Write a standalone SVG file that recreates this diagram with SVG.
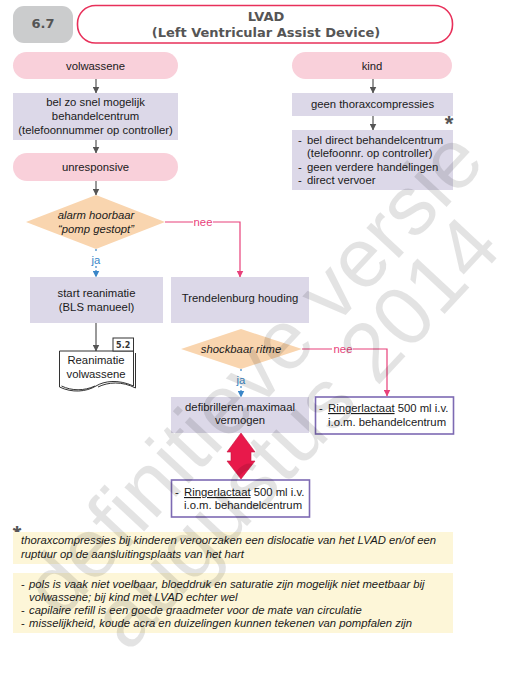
<svg xmlns="http://www.w3.org/2000/svg" width="526" height="680" viewBox="0 0 526 680">
<defs>
<style>
.t{font-family:"Liberation Sans",Arial,sans-serif;font-size:11.3px;fill:#1a1a1a;text-anchor:middle}
.l{text-anchor:start}
.i{font-style:italic}
.h{font-family:"DejaVu Sans",Verdana,sans-serif;font-weight:bold;font-size:13px;fill:#555;text-anchor:middle}
.pink{fill:#f9d0da}
.lav{fill:#dcd8e8}
.dia{fill:#f9d5af}
.note{fill:#fdf6d8}
.out{fill:#fff;stroke:#7d6ab3;stroke-width:1.6}
.g{stroke:#555;stroke-width:1.2;fill:none}
.nee{stroke:#e8407a;stroke-width:1.2;fill:none}
.ja{stroke:#3a86c8;stroke-width:1.2;fill:none;stroke-dasharray:2 2}
.star{font-family:"Liberation Sans",Arial,sans-serif;font-weight:bold;font-size:22px;fill:#555;text-anchor:middle}
</style>
<marker id="ag" markerUnits="userSpaceOnUse" markerWidth="7" markerHeight="7" refX="6.5" refY="3.5" orient="auto"><path d="M0,0 L7,3.5 L0,7 z" fill="#555"/></marker>
<marker id="ap" markerUnits="userSpaceOnUse" markerWidth="7" markerHeight="7" refX="6.5" refY="3.5" orient="auto"><path d="M0,0 L7,3.5 L0,7 z" fill="#e8407a"/></marker>
<marker id="ab" markerUnits="userSpaceOnUse" markerWidth="7" markerHeight="7" refX="6.5" refY="3.5" orient="auto"><path d="M0,0 L7,3.5 L0,7 z" fill="#3a86c8"/></marker>
</defs>
<rect width="526" height="680" fill="#fff"/>

<g id="header">
<rect x="13" y="6" width="60" height="37" rx="11" fill="#cbcccd"/>
<text class="h" x="43" y="28">6.7</text>
<rect x="77.5" y="5.5" width="375" height="37.5" rx="18" fill="#fff" stroke="#e8305a" stroke-width="1.6"/>
<text class="h" x="266" y="21">LVAD</text>
<text class="h" x="266" y="37">(Left Ventricular Assist Device)</text>
</g>

<g id="connectors">
<line class="g" x1="96" y1="79" x2="96" y2="93" marker-end="url(#ag)"/>
<line class="g" x1="96" y1="140" x2="96" y2="153" marker-end="url(#ag)"/>
<line class="g" x1="96" y1="181" x2="96" y2="195" marker-end="url(#ag)"/>
<line class="g" x1="373" y1="79" x2="373" y2="93" marker-end="url(#ag)"/>
<line class="g" x1="373" y1="116" x2="373" y2="130" marker-end="url(#ag)"/>
<line class="g" x1="96" y1="323" x2="96" y2="351" marker-end="url(#ag)"/>
<path class="nee" d="M165,222 H193 M213,222 H240 V277" marker-end="url(#ap)"/>
<path class="nee" d="M302,349 H332 M353,349 H387 V396" marker-end="url(#ap)"/>
<line class="ja" x1="96" y1="249" x2="96" y2="253"/>
<line class="ja" x1="96" y1="266" x2="96" y2="277" marker-end="url(#ab)"/>
<line class="ja" x1="241" y1="369" x2="241" y2="373"/>
<line class="ja" x1="241" y1="386" x2="241" y2="397" marker-end="url(#ab)"/>
<text class="t" x="203" y="226" style="fill:#e8407a">nee</text>
<text class="t" x="343" y="353" style="fill:#e8407a">nee</text>
<text class="t" x="96" y="264" style="fill:#3a86c8">ja</text>
<text class="t" x="241" y="384" style="fill:#3a86c8">ja</text>
<polygon id="dblarrow" points="241,433 255,452 251,452 251,461 255,461 241,479 227,461 231,461 231,452 227,452" fill="#e8194b" stroke="#c8143f" stroke-width="0.6"/>
</g>

<g id="volwassene"><rect class="pink" x="13" y="52" width="165" height="27" rx="13.5"/><text class="t" x="95.5" y="70">volwassene</text></g>
<g id="kind"><rect class="pink" x="292" y="52" width="160" height="27" rx="13.5"/><text class="t" x="372" y="70">kind</text></g>
<g id="bel"><rect class="lav" x="13" y="93" width="165" height="47"/>
<text class="t" x="95.5" y="106">bel zo snel mogelijk</text>
<text class="t" x="95.5" y="120">behandelcentrum</text>
<text class="t" x="95.5" y="134">(telefoonnummer op controller)</text></g>
<g id="geenthorax"><rect class="lav" x="292" y="93" width="161" height="23"/><text class="t" x="372.5" y="108">geen thoraxcompressies</text></g>
<g id="star1"><text class="star" x="449" y="131">*</text></g>
<g id="kindlist"><rect class="lav" x="292" y="130" width="161" height="60"/>
<text class="t l" x="298" y="144">-</text><text class="t l" x="307" y="144">bel direct behandelcentrum</text>
<text class="t l" x="307" y="157">(telefoonnr. op controller)</text>
<text class="t l" x="298" y="171">-</text><text class="t l" x="307" y="171">geen verdere handelingen</text>
<text class="t l" x="298" y="184">-</text><text class="t l" x="307" y="184">direct vervoer</text></g>
<g id="unresponsive"><rect class="pink" x="13" y="153" width="165" height="28" rx="14"/><text class="t" x="95.5" y="171">unresponsive</text></g>
<g id="alarm"><polygon class="dia" points="96,195 165,222 96,249 26,222"/>
<text class="t i" x="96" y="219">alarm hoorbaar</text>
<text class="t i" x="96" y="233">“pomp gestopt”</text></g>
<g id="start"><rect class="lav" x="30" y="277" width="133" height="46"/>
<text class="t" x="96.5" y="297">start reanimatie</text>
<text class="t" x="96.5" y="311">(BLS manueel)</text></g>
<g id="trendelenburg"><rect class="lav" x="171" y="277" width="138" height="46"/><text class="t" x="240" y="302">Trendelenburg houding</text></g>
<g id="reanimatie">
<path d="M59.5,351 H133.5 V386 C118,379 104,381 96,386 C86,392 72,393 59.5,387 Z" fill="#fff" stroke="#333" stroke-width="1"/>
<path d="M61.5,386 C72,391 84,391 95,386 M135.5,353 V388 C122,381 108,382 98,387" fill="none" stroke="#333" stroke-width="1"/>
<rect x="113" y="338" width="20.5" height="13" fill="#fff" stroke="#333" stroke-width="1"/>
<text x="123.2" y="348" style="font-family:'DejaVu Sans',Verdana,sans-serif;font-weight:bold;font-size:8px;fill:#333;text-anchor:middle">5.2</text>
<text class="t" x="96" y="364">Reanimatie</text>
<text class="t" x="96" y="378">volwassene</text></g>
<g id="shockbaar"><polygon class="dia" points="241,329 302,349 241,369 181,349"/><text class="t i" x="241" y="353">shockbaar ritme</text></g>
<g id="defibrilleren"><rect class="lav" x="171" y="397" width="138" height="36"/>
<text class="t" x="240" y="411">defibrilleren maximaal</text>
<text class="t" x="240" y="424">vermogen</text></g>
<g id="ringer1"><rect class="out" x="315.5" y="397" width="138" height="37"/>
<text class="t l" x="319" y="412">-</text><text class="t l" x="328" y="412"><tspan text-decoration="underline">Ringerlactaat</tspan> 500 ml i.v.</text>
<text class="t l" x="328" y="426">i.o.m. behandelcentrum</text></g>
<g id="ringer2"><rect class="out" x="171.5" y="480" width="138" height="37"/>
<text class="t l" x="175" y="496">-</text><text class="t l" x="184" y="496"><tspan text-decoration="underline">Ringerlactaat</tspan> 500 ml i.v.</text>
<text class="t l" x="184" y="509">i.o.m. behandelcentrum</text></g>
<g id="star2"><text class="star" x="17" y="541">*</text></g>
<g id="note1"><rect class="note" x="13" y="532" width="440" height="32"/>
<text class="t l i" x="21" y="544">thoraxcompressies bij kinderen veroorzaken een dislocatie van het LVAD en/of een</text>
<text class="t l i" x="21" y="558">ruptuur op de aansluitingsplaats van het hart</text></g>
<g id="note2"><rect class="note" x="13" y="573" width="440" height="60"/>
<text class="t l" x="21" y="588">-</text><text class="t l i" x="29" y="588">pols is vaak niet voelbaar, bloeddruk en saturatie zijn mogelijk niet meetbaar bij</text>
<text class="t l i" x="29" y="601">volwassene; bij kind met LVAD echter wel</text>
<text class="t l" x="21" y="614">-</text><text class="t l i" x="29" y="614">capilaire refill is een goede graadmeter voor de mate van circulatie</text>
<text class="t l" x="21" y="627">-</text><text class="t l i" x="29" y="627">misselijkheid, koude acra en duizelingen kunnen tekenen van pompfalen zijn</text></g>

<g id="watermark" style="font-family:'Liberation Sans',Arial,sans-serif;font-size:84px;fill:#000;fill-opacity:0.11;text-anchor:middle">
<text transform="translate(274,392) rotate(-47)">definitieve versie</text>
<text transform="translate(316,452) rotate(-47)">augustus 2014</text>
</g>
</svg>
